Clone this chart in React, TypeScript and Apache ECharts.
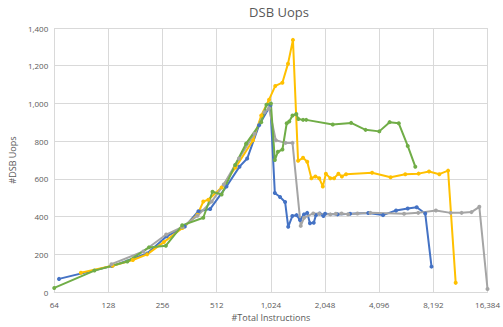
import React, { useEffect, useRef } from "react";
import * as echarts from "echarts";

const xTicks = [64, 128, 256, 512, 1024, 2048, 4096, 8192, 16384];
const yTicks = [0, 200, 400, 600, 800, 1000, 1200, 1400];

const seriesNames = ["Blue", "Orange", "Gray", "Green"];
const seriesColors = ["#4472C4", "#FFC000", "#A5A5A5", "#70AD47"];

const blue: [number, number][] = [
  [68, 70], [134, 138], [210, 205], [270, 296], [340, 347], [405, 429], [471, 441],
  [580, 560], [685, 665], [756, 708], [880, 885], [1017, 990], [1077, 525],
  [1151, 504], [1228, 478], [1278, 346], [1347, 403], [1422, 408], [1486, 382],
  [1564, 412], [1630, 420], [1688, 365], [1772, 368], [1822, 408], [1910, 417],
  [2006, 403], [2048, 415], [2400, 412], [2820, 415], [3560, 419], [4300, 408],
  [5080, 433], [5900, 443], [6620, 450], [7380, 417], [8000, 135],
];

const orange: [number, number][] = [
  [90, 103], [135, 140], [175, 170], [210, 200], [260, 265], [330, 340],
  [400, 410], [431, 480], [460, 490], [545, 555], [650, 660], [815, 805],
  [905, 936], [1000, 1020], [1083, 1093], [1186, 1110], [1275, 1211],
  [1358, 1337], [1450, 696], [1545, 712], [1630, 691], [1720, 604], [1810, 613],
  [1900, 604], [1990, 560], [2070, 627], [2190, 604], [2300, 604], [2430, 627],
  [2540, 613], [2680, 625], [3740, 633], [4740, 609], [5720, 625], [6780, 628],
  [7750, 639], [8840, 625], [9890, 644], [10900, 49],
];

const gray: [number, number][] = [
  [133, 148], [200, 215], [268, 305], [330, 345], [400, 405], [480, 480],
  [560, 570], [680, 708], [830, 839], [943, 953], [1000, 975], [1090, 805],
  [1235, 791], [1350, 791], [1500, 351], [1565, 394], [1760, 417], [1900, 415],
  [2190, 412], [2350, 415], [2530, 417], [2750, 413], [3100, 417], [3660, 420],
  [5630, 415], [6750, 420], [8460, 433], [10220, 420], [11760, 420],
  [13340, 424], [14750, 452], [16384, 16],
];

const green: [number, number][] = [
  [64, 22], [107, 114], [163, 162], [215, 237], [267, 246], [329, 354],
  [431, 394], [485, 532], [545, 517], [648, 674], [745, 787], [904, 900],
  [967, 993], [1024, 1000], [1077, 700], [1120, 744], [1187, 756], [1254, 895],
  [1295, 904], [1350, 936], [1418, 944], [1455, 918], [1545, 913], [1610, 913],
  [2260, 889], [2860, 897], [3440, 860], [4100, 852], [4680, 901], [5260, 895],
  [5900, 775], [6500, 665],
];

const seriesData = [blue, orange, gray, green];

const fmt = (v: number) => Math.round(v).toLocaleString("en-US");
const FONT = "Open Sans";
const TXT = "#595959";

export default function App() {
  const ref = useRef<HTMLDivElement>(null);
  useEffect(() => {
    if (!ref.current) return;
    const chart = echarts.init(ref.current, undefined, { renderer: "svg" });
    chart.setOption({
      animation: false,
      backgroundColor: "#ffffff",
      textStyle: { fontFamily: FONT },
      graphic: [
        {
          type: "text",
          x: 279,
          y: 12,
          style: {
            text: "DSB Uops",
            fill: TXT,
            font: `13px '${FONT}'`,
            textAlign: "center",
            textVerticalAlign: "middle",
          },
        },
      ],
      grid: { left: 54, right: 11, top: 28, bottom: 30, containLabel: false },
      xAxis: {
        type: "log",
        logBase: 2,
        min: xTicks[0],
        max: xTicks[xTicks.length - 1],
        splitNumber: xTicks.length - 1,
        name: "#Total Instructions",
        nameLocation: "middle",
        nameGap: 19,
        nameTextStyle: { color: TXT, fontSize: 9, fontFamily: FONT },
        axisLine: { show: true, lineStyle: { color: "#d9d9d9" } },
        axisTick: { show: false },
        axisLabel: { color: TXT, fontSize: 8, margin: 8, formatter: (v: number) => fmt(v) },
        splitLine: { show: true, lineStyle: { color: "#d9d9d9", width: 1 } },
      },
      yAxis: {
        type: "value",
        min: yTicks[0],
        max: yTicks[yTicks.length - 1],
        interval: yTicks[1] - yTicks[0],
        name: "#DSB Uops",
        nameLocation: "middle",
        nameGap: 37,
        nameTextStyle: { color: TXT, fontSize: 9, fontFamily: FONT },
        axisLine: { show: false },
        axisTick: { show: false },
        axisLabel: { color: TXT, fontSize: 8, margin: 6, formatter: (v: number) => fmt(v) },
        splitLine: { show: true, lineStyle: { color: "#d9d9d9", width: 1 } },
      },
      series: seriesData.map((d, i) => ({
        name: seriesNames[i],
        type: "line",
        data: d,
        symbol: "circle",
        symbolSize: 4,
        showSymbol: true,
        clip: true,
        lineStyle: { color: seriesColors[i], width: 2 },
        itemStyle: { color: seriesColors[i] },
        z: 2,
      })),
    });
    return () => chart.dispose();
  }, []);
  return <div ref={ref} style={{ width: 503, height: 327, position: "absolute", left: 0, top: 0 }} />;
}
